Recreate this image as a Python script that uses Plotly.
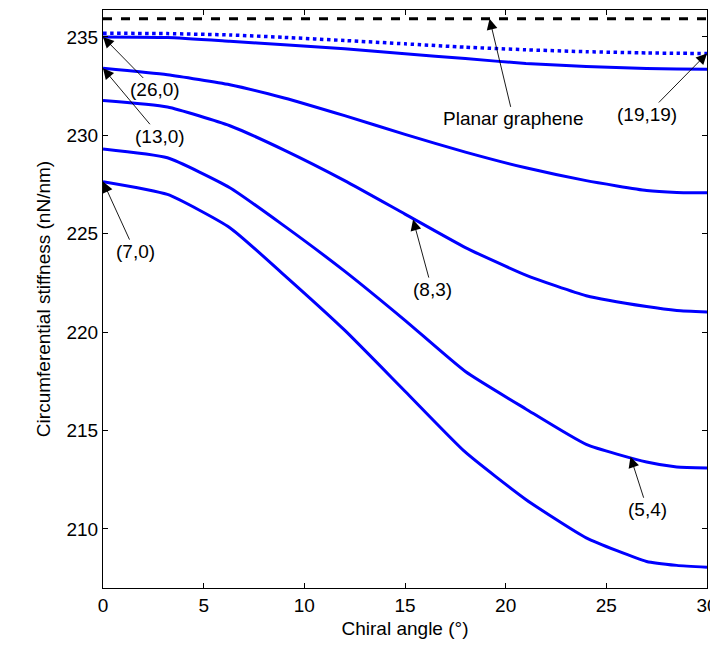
import plotly.graph_objects as go

# Chiral angle (degrees)
chiral_angle = [0, 3.2, 6.3, 9.0, 12.0, 15.0, 18.0, 21.0, 24.0, 27.0, 28.5, 30.0]

# Circumferential stiffness (nN/nm) for each tube family
stiff_26 = [235.0, 234.97, 234.78, 234.6, 234.4, 234.15, 233.9, 233.65, 233.5, 233.4, 233.37, 233.36]
stiff_13 = [233.41, 233.08, 232.57, 231.9, 231.0, 230.05, 229.15, 228.35, 227.7, 227.2, 227.1, 227.08]
stiff_83 = [231.77, 231.44, 230.49, 229.25, 227.7, 226.0, 224.3, 222.9, 221.85, 221.3, 221.1, 221.03]
stiff_54 = [229.31, 228.86, 227.34, 225.4, 223.1, 220.6, 218.0, 216.1, 214.3, 213.4, 213.15, 213.1]
stiff_7 = [227.65, 227.0, 225.31, 222.9, 220.1, 217.0, 213.9, 211.5, 209.55, 208.35, 208.15, 208.05]
stiff_19 = [235.19, 235.17, 235.1, 234.98, 234.82, 234.65, 234.48, 234.35, 234.25, 234.19, 234.17, 234.16]
planar_graphene = 235.92

# Annotation labels and the points they mark
ann_labels = ["(26,0)", "(13,0)", "(7,0)", "(8,3)", "(5,4)", "(19,19)", "Planar graphene"]
ann_x = [0, 0, 0, 15.4, 26.2, 30.0, 19.2]
ann_y = [stiff_26[0], stiff_13[0], stiff_7[0], 225.72, 213.67, stiff_19[-1], planar_graphene]
ann_ax = [52, 57, 32, 19, 17, -60, 24]
ann_ay = [53, 68, 70, 70, 53, 61, 100]

fig = go.Figure()

fig.add_trace(go.Scatter(x=[0, 30], y=[planar_graphene, planar_graphene], mode="lines",
                         line=dict(color="black", width=3, dash="dash"), showlegend=False))
fig.add_trace(go.Scatter(x=chiral_angle, y=stiff_19, mode="lines",
                         line=dict(color="#0000ff", width=3.5, dash="dot", shape="spline", smoothing=0.5),
                         showlegend=False))
for ys in [stiff_26, stiff_13, stiff_83, stiff_54, stiff_7]:
    fig.add_trace(go.Scatter(x=chiral_angle, y=ys, mode="lines",
                             line=dict(color="#0000ff", width=3, shape="spline", smoothing=0.5),
                             showlegend=False))

font_family = "Liberation Sans, Arial, sans-serif"
for t, x, y, ax, ay in zip(ann_labels, ann_x, ann_y, ann_ax, ann_ay):
    fig.add_annotation(x=x, y=y, text=t, showarrow=True, ax=ax, ay=ay,
                       arrowhead=2, arrowsize=2.4, arrowwidth=0.9, arrowcolor="black",
                       font=dict(size=19, color="black", family=font_family))

axis_common = dict(showgrid=False, zeroline=False, showline=True, linecolor="black",
                   linewidth=1, mirror="ticks", ticks="inside", ticklen=5, automargin=False,
                   tickcolor="black", tickfont=dict(size=19, color="black", family=font_family))

fig.update_xaxes(range=[0, 30], tickvals=[0, 5, 10, 15, 20, 25, 30],
                 title=dict(text="Chiral angle (°)", font=dict(size=19, color="black", family=font_family), standoff=6),
                 **axis_common)
fig.update_yaxes(range=[207.0, 236.37], tickvals=[210, 215, 220, 225, 230, 235],
                 title=dict(text="Circumferential stiffness (nN/nm)", font=dict(size=19, color="black", family=font_family), standoff=10),
                 **axis_common)

# The page body adds an 8 px offset, so the figure is sized/margined to compensate
fig.update_layout(width=710, height=638, margin=dict(l=95, r=11, t=2, b=58),
                  plot_bgcolor="white", paper_bgcolor="white")

fig.write_html("out.html")
